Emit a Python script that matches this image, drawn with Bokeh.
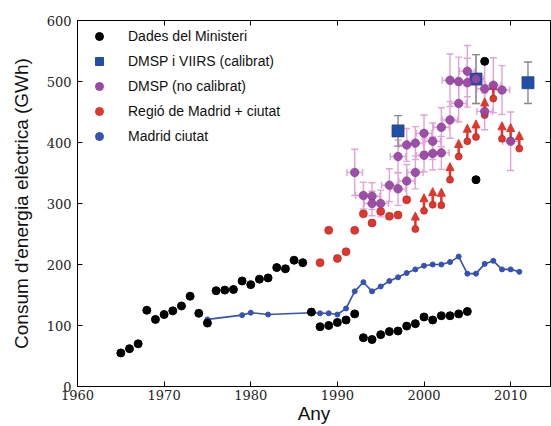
from bokeh.plotting import figure
from bokeh.models import (ColumnDataSource, Whisker, TeeHead, Arrow, NormalHead, Legend,
                          LegendItem, LinearAxis, FixedTicker, Range1d, CustomJSTickFormatter)
from bokeh.embed import file_html
from bokeh.resources import INLINE

# ---------------- data ----------------
ministeri_years = [1965, 1966, 1967, 1968, 1969, 1970, 1971, 1972, 1973, 1974, 1975, 1976, 1977,
                   1978, 1979, 1980, 1981, 1982, 1983, 1984, 1985, 1986, 1987, 1988, 1989, 1990,
                   1991, 1992, 1993, 1994, 1995, 1996, 1997, 1998, 1999, 2000, 2001, 2002, 2003,
                   2004, 2005, 2006, 2007]
ministeri_vals = [55, 62, 70, 125, 110, 118, 124, 132, 148, 120, 104, 157, 158,
                  159, 173, 167, 176, 178, 195, 193, 207, 203, 122, 98, 100, 105,
                  109, 119, 80, 77, 85, 90, 91, 99, 103, 114, 109, 116, 116,
                  119, 123, 339, 533]

ciutat_years = [1975, 1979, 1980, 1982, 1987, 1988, 1989, 1990, 1991, 1992, 1993, 1994, 1995,
                1996, 1997, 1998, 1999, 2000, 2001, 2002, 2003, 2004, 2005, 2006, 2007, 2008,
                2009, 2010, 2011]
ciutat_vals = [110, 117, 121, 118, 121, 120, 120, 118, 128, 156, 171, 156, 164,
               173, 179, 186, 192, 198, 200, 200, 204, 213, 185, 185, 201, 206,
               192, 192, 188]

regio_years = [1988, 1989, 1990, 1991, 1992, 1993, 1994, 1995, 1996, 1997, 1998]
regio_vals = [203, 256, 210, 221, 256, 283, 268, 287, 279, 281, 306]

regio_lim_years = [1999, 2000, 2001, 2002, 2003, 2004, 2005, 2006, 2007, 2008, 2009, 2010, 2011]
regio_lim_vals = [258, 288, 298, 297, 339, 377, 402, 409, 445, 472, 406, 403, 390]

dmsp_years = [1992, 1993, 1994, 1994, 1995, 1996, 1997, 1997, 1998, 1998, 1999, 1999, 2000,
              2000, 2001, 2001, 2002, 2002, 2003, 2003, 2004, 2004, 2005, 2005, 2006, 2007,
              2007, 2008, 2009, 2010]
dmsp_vals = [351, 313, 312, 300, 300, 330, 324, 377, 337, 396, 399, 351, 415,
             379, 402, 382, 425, 383, 437, 502, 500, 464, 517, 498, 504, 488,
             451, 494, 486, 402]
dmsp_err = [38, 22, 22, 20, 22, 27, 27, 27, 27, 27, 27, 27, 30,
            27, 30, 27, 32, 27, 30, 43, 40, 30, 42, 40, 40, 44,
            30, 45, 40, 48]
dmsp_xerr = 0.9

cal_years = [1997, 2006, 2012]
cal_vals = [419, 504, 498]
cal_err = [25, 40, 34]

x_ticks = [1960, 1970, 1980, 1990, 2000, 2010]
y_ticks = [0, 100, 200, 300, 400, 500, 600]

labels = ["Dades del Ministeri", "DMSP i VIIRS (calibrat)", "DMSP (no calibrat)",
          "Regió de Madrid + ciutat", "Madrid ciutat"]

# ---------------- styles ----------------
BLACK = "#000000"
SQ_BLUE = "#1f4fa6"
PURPLE = "#9a47a6"
PINK = "#e6a2d6"
RED = "#e2352c"
LINE_BLUE = "#3451b8"
GRAY = "#8a8a8a"
ARROW_LEN = 28

p = figure(width=551, height=426, x_range=Range1d(1960, 2014.6), y_range=Range1d(0, 600),
           output_backend="svg", toolbar_location=None,
           min_border_left=77, min_border_right=1, min_border_top=20, min_border_bottom=40)
p.xgrid.visible = False
p.ygrid.visible = False
p.outline_line_color = "black"
p.outline_line_alpha = 1
p.outline_line_width = 1
p.background_fill_color = "white"
p.border_fill_color = "white"

for ax in (p.xaxis[0], p.yaxis[0]):
    ax.major_tick_in = 5
    ax.major_tick_out = 0
    ax.minor_tick_line_color = None
    ax.axis_line_color = "black"
    ax.major_tick_line_color = "black"
    ax.major_label_text_font = "DejaVu Serif"
    ax.major_label_text_font_size = "13px"
    ax.major_label_text_color = "#222222"
    ax.axis_label_text_font = "Liberation Sans"
    ax.axis_label_text_font_size = "19px"
    ax.axis_label_text_font_style = "normal"
    ax.axis_label_text_color = "#111111"

p.xaxis[0].ticker = FixedTicker(ticks=x_ticks)
p.yaxis[0].ticker = FixedTicker(ticks=y_ticks)
p.xaxis[0].axis_label = "Any"
p.yaxis[0].axis_label = "Consum d'energia elèctrica (GWh)"
p.xaxis[0].major_label_standoff = 3
p.xaxis[0].axis_label_standoff = 0
p.yaxis[0].major_label_standoff = 6
p.yaxis[0].axis_label_standoff = 12

empty_fmt = CustomJSTickFormatter(code="return ''")
top_ax = LinearAxis(ticker=FixedTicker(ticks=x_ticks), formatter=empty_fmt, major_tick_in=5,
                    major_tick_out=0, minor_tick_line_color=None, axis_line_color=None,
                    major_tick_line_color="black",
                    major_label_standoff=0, major_label_text_font_size="0px")
right_ax = LinearAxis(ticker=FixedTicker(ticks=y_ticks), formatter=empty_fmt, major_tick_in=5,
                      major_tick_out=0, minor_tick_line_color=None, axis_line_color=None,
                      major_tick_line_color="black",
                      major_label_standoff=0, major_label_text_font_size="0px")
p.add_layout(top_ax, "above")
p.add_layout(right_ax, "right")

# ---------------- sources ----------------
dmsp_src = ColumnDataSource(dict(
    x=dmsp_years, y=dmsp_vals,
    lo=[v - e for v, e in zip(dmsp_vals, dmsp_err)],
    hi=[v + e for v, e in zip(dmsp_vals, dmsp_err)],
    xlo=[x - dmsp_xerr for x in dmsp_years],
    xhi=[x + dmsp_xerr for x in dmsp_years]))
cal_src = ColumnDataSource(dict(
    x=cal_years, y=cal_vals,
    lo=[v - e for v, e in zip(cal_vals, cal_err)],
    hi=[v + e for v, e in zip(cal_vals, cal_err)]))
lim_src = ColumnDataSource(dict(
    x=regio_lim_years, y=regio_lim_vals,
    tip=[v + ARROW_LEN for v in regio_lim_vals]))

# DMSP error bars (pink)
wy = Whisker(source=dmsp_src, base="x", lower="lo", upper="hi", dimension="height",
             line_color=PINK, line_width=1.4, level="underlay",
             lower_head=TeeHead(size=7, line_color=PINK, line_width=1.4),
             upper_head=TeeHead(size=7, line_color=PINK, line_width=1.4))
wx = Whisker(source=dmsp_src, base="y", lower="xlo", upper="xhi", dimension="width",
             line_color=PINK, line_width=1.4, level="underlay",
             lower_head=TeeHead(size=7, line_color=PINK, line_width=1.4),
             upper_head=TeeHead(size=7, line_color=PINK, line_width=1.4))
p.add_layout(wy)
p.add_layout(wx)

# calibrated error bars (gray)
wc = Whisker(source=cal_src, base="x", lower="lo", upper="hi", dimension="height",
             line_color=GRAY, line_width=1.4, level="underlay",
             lower_head=TeeHead(size=8, line_color=GRAY, line_width=1.4),
             upper_head=TeeHead(size=8, line_color=GRAY, line_width=1.4))
p.add_layout(wc)

# red lower-limit arrows
arr = Arrow(source=lim_src, x_start="x", y_start="y", x_end="x", y_end="tip",
            line_color=RED, line_width=2.5, level="underlay",
            end=NormalHead(size=8, fill_color=RED, line_color=RED, line_width=1))
p.add_layout(arr)

# Madrid ciutat line
p.line(ciutat_years, ciutat_vals, line_color=LINE_BLUE, line_width=1.6)
p.scatter(ciutat_years, ciutat_vals, size=5, fill_color=LINE_BLUE, line_color=LINE_BLUE)

# Ministeri black dots
p.scatter(ministeri_years, ministeri_vals, size=8, fill_color=BLACK, line_color=BLACK)

# red region dots
p.scatter(regio_years, regio_vals, size=8, fill_color=RED, line_color="#b02020", line_width=0.6)
p.scatter("x", "y", source=lim_src, size=7, fill_color=RED, line_color="#b02020", line_width=0.6)

# calibrated squares
p.scatter("x", "y", source=cal_src, marker="square", size=12, fill_color=SQ_BLUE,
          line_color="#2a3f80", line_width=0.8)

# DMSP purple dots
p.scatter("x", "y", source=dmsp_src, size=8.5, fill_color=PURPLE, line_color="#7a3587",
          line_width=0.6, fill_alpha=0.95)

# ---------------- legend (proxy glyphs, not shown in the plot area) ----------------
nan = float("nan")
def proxy(**kw):
    return p.scatter("x", "y", source=ColumnDataSource(dict(x=[nan], y=[nan])), **kw)

r1 = proxy(size=12, fill_color=BLACK, line_color=BLACK)
r2 = proxy(marker="square", size=11, fill_color=SQ_BLUE, line_color=SQ_BLUE)
r3 = proxy(size=12, fill_color=PURPLE, line_color=PURPLE)
r4 = proxy(size=12, fill_color=RED, line_color=RED)
r5 = proxy(size=12, fill_color=LINE_BLUE, line_color=LINE_BLUE)

legend = Legend(items=[LegendItem(label=l, renderers=[r]) for l, r in zip(labels, [r1, r2, r3, r4, r5])],
                location="top_left", margin=6, padding=0, spacing=5,
                glyph_width=32, glyph_height=20, label_standoff=13,
                label_text_font="Liberation Sans", label_text_font_size="14px",
                label_text_color="#111111", border_line_color=None,
                background_fill_alpha=0)
p.add_layout(legend)

open("out.html", "w").write(file_html(p, INLINE))
